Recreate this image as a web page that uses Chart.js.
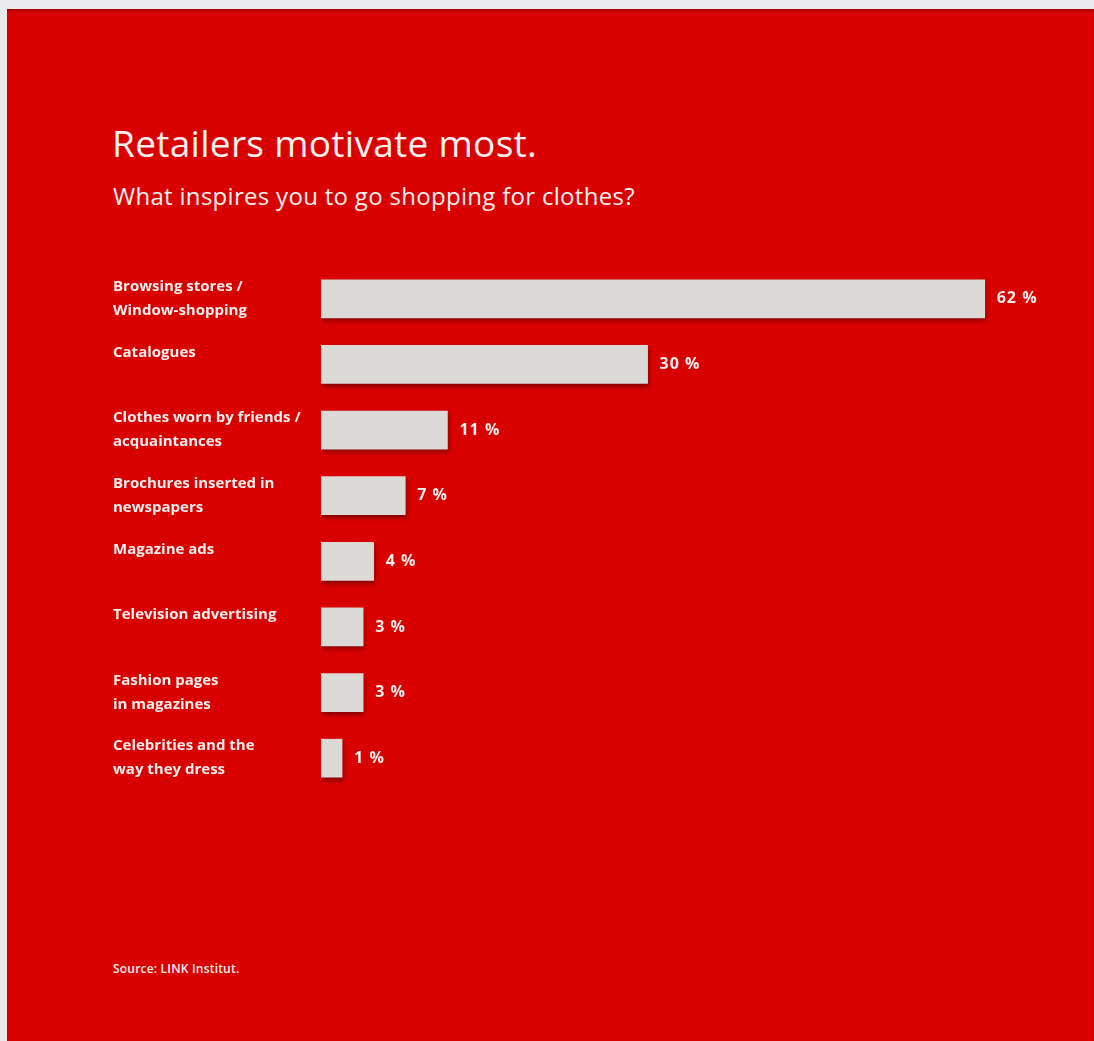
<!DOCTYPE html>
<html>
<head>
<meta charset="utf-8">
<script src="https://cdn.jsdelivr.net/npm/chart.js@4.4.1/dist/chart.umd.min.js"></script>
<style>
  html, body { margin: 0; padding: 0; }
  body { width: 1094px; height: 1041px; background: #e9e9ee; position: relative; overflow: hidden; font-family: "Open Sans", sans-serif; }
  #panel { position: absolute; left: 7px; top: 9px; right: 0; bottom: 0; background: #d90000; box-shadow: inset 0 2px 2px rgba(120,0,0,0.5); }
  #title { position: absolute; left: 112px; top: 117px; color: #f8f0f0; font-size: 37px; font-weight: 400; white-space: nowrap; letter-spacing: 0.3px; }
  #subtitle { position: absolute; left: 113px; top: 179px; color: #f8f0f0; font-size: 24px; font-weight: 400; white-space: nowrap; letter-spacing: 0.3px; }
  #source { position: absolute; left: 113px; top: 960px; color: #f8eeee; font-size: 12px; font-weight: 600; white-space: nowrap; letter-spacing: 0.2px; }
  #chart { position: absolute; left: 0; top: 0; }
</style>
</head>
<body>
<div id="panel"></div>
<div id="title">Retailers motivate most.</div>
<div id="subtitle">What inspires you to go shopping for clothes?</div>
<div id="source">Source: LINK Institut.</div>
<canvas id="chart" width="1094" height="1041"></canvas>
<script>
const categories = [
  ["Browsing stores /", "Window-shopping"],
  ["Catalogues", ""],
  ["Clothes worn by friends /", "acquaintances"],
  ["Brochures inserted in", "newspapers"],
  ["Magazine ads", ""],
  ["Television advertising", ""],
  ["Fashion pages", "in magazines"],
  ["Celebrities and the", "way they dress"]
];
const values = [62, 30, 11, 7, 4, 3, 3, 1];
const valueSuffix = " %";

const shadowPlugin = {
  id: 'barShadow',
  beforeDatasetsDraw(chart) {
    const ctx = chart.ctx;
    ctx.save();
    ctx.shadowColor = 'rgba(110,0,0,0.75)';
    ctx.shadowBlur = 4;
    ctx.shadowOffsetX = 1;
    ctx.shadowOffsetY = 3;
  },
  afterDatasetsDraw(chart) {
    chart.ctx.restore();
    const ctx = chart.ctx;
    const meta = chart.getDatasetMeta(0);
    ctx.save();
    ctx.fillStyle = '#f8eeee';
    ctx.font = 'bold 16px "Open Sans", sans-serif';
    ctx.textAlign = 'left';
    ctx.textBaseline = 'middle';
    if ('letterSpacing' in ctx) ctx.letterSpacing = '1px';
    meta.data.forEach((bar, i) => {
      ctx.fillText(values[i] + valueSuffix, bar.x + 12, bar.y);
    });
    ctx.restore();
  }
};

new Chart(document.getElementById('chart'), {
  type: 'bar',
  data: {
    labels: categories,
    datasets: [{
      data: values,
      base: -1,
      backgroundColor: '#dcdad7',
      borderWidth: 0,
      barThickness: 38
    }]
  },
  options: {
    indexAxis: 'y',
    responsive: false,
    animation: false,
    layout: { padding: { left: 113, right: 25, top: 266, bottom: 250 } },
    plugins: { legend: { display: false }, tooltip: { enabled: false } },
    scales: {
      x: { display: false, min: -1, max: 70 },
      y: {
        grid: { display: false, drawTicks: false },
        border: { display: false },
        afterFit(scale) { scale.width = 208; },
        ticks: {
          crossAlign: 'far',
          padding: 0,
          color: '#f8eeee',
          font: { family: '"Open Sans", sans-serif', size: 15, weight: 'bold', lineHeight: 1.6 }
        }
      }
    }
  },
  plugins: [shadowPlugin]
});
</script>
</body>
</html>
